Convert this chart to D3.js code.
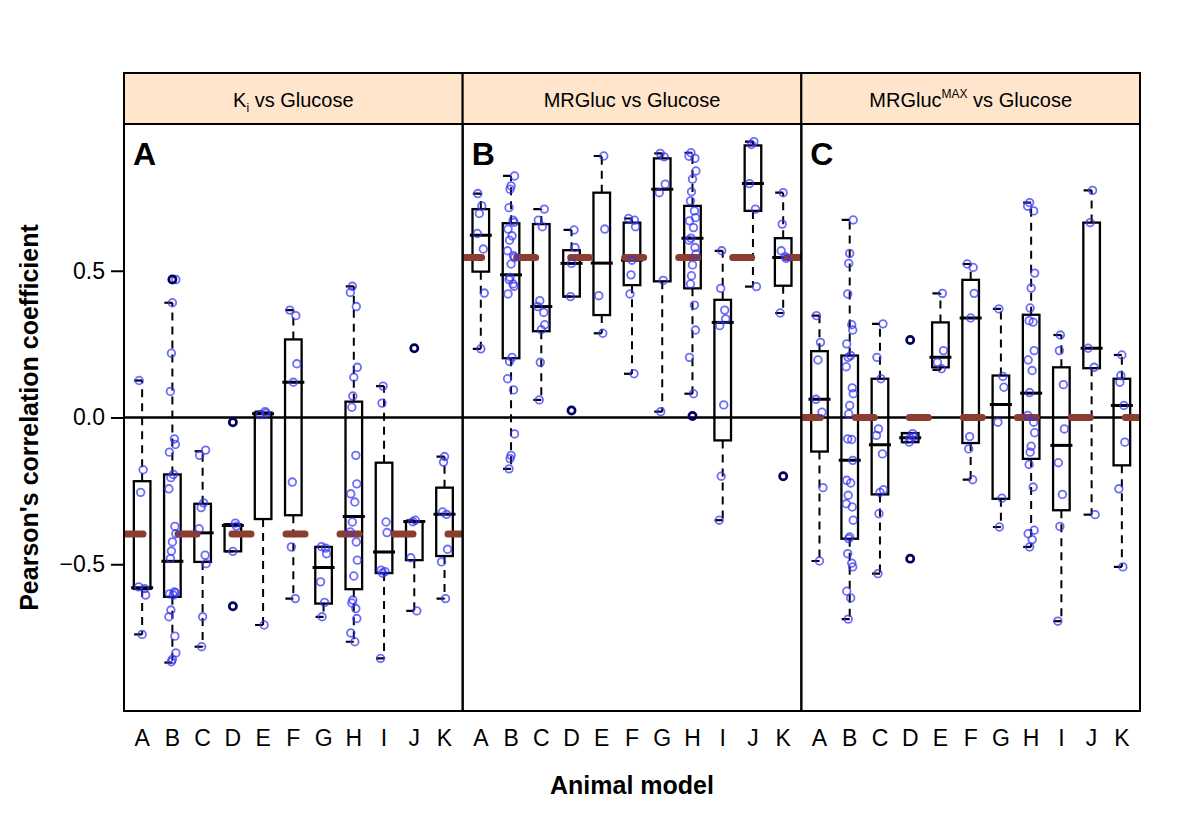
<!DOCTYPE html>
<html>
<head>
<meta charset="utf-8">
<script src="https://cdn.jsdelivr.net/npm/d3@7"></script>
<style>
  html, body { margin: 0; padding: 0; background: #ffffff; }
  svg { display: block; font-family: "Liberation Sans", Arial, Helvetica, sans-serif; }
</style>
</head>
<body>
<svg id="chart" width="1200" height="831"></svg>
<script>
// ---------------- data ----------------
const categories = ["A", "B", "C", "D", "E", "F", "G", "H", "I", "J", "K"];
const panelLetters = ["A", "B", "C"];
const yTicks = [-0.5, 0.0, 0.5];
const refLines = [-0.397, 0.545, 0.0];
const xAxisTitle = "Animal model";
const yAxisTitle = "Pearson's correlation coefficient";

// box statistics per category: [lower whisker, lower hinge, median, upper hinge, upper whisker]
const kiStats = [
  [-0.739, -0.584, -0.580, -0.217, 0.126],
  [-0.835, -0.611, -0.490, -0.194, 0.391],
  [-0.781, -0.492, -0.393, -0.294, -0.115],
  [-0.456, -0.456, -0.368, -0.364, -0.364],
  [-0.707, -0.346, 0.013, 0.017, 0.020],
  [-0.617, -0.333, 0.120, 0.266, 0.366],
  [-0.679, -0.634, -0.511, -0.441, -0.441],
  [-0.764, -0.585, -0.337, 0.054, 0.447],
  [-0.821, -0.530, -0.458, -0.154, 0.107],
  [-0.659, -0.486, -0.354, -0.354, -0.350],
  [-0.617, -0.472, -0.330, -0.239, -0.133]
];
const kiPoints = [
  [0.126, -0.178, -0.255, -0.577, -0.583, -0.605, -0.739],
  [0.470, 0.391, 0.219, 0.089, -0.073, -0.092, -0.118, -0.194, -0.205, -0.243, -0.371, -0.396, -0.424, -0.455, -0.481, -0.594, -0.598, -0.601, -0.605, -0.656, -0.679, -0.745, -0.802, -0.824, -0.832],
  [-0.111, -0.129, -0.291, -0.307, -0.379, -0.469, -0.498, -0.679, -0.781],
  [-0.360, -0.370, -0.456],
  [0.020, 0.015, 0.010, -0.707],
  [0.366, 0.347, 0.183, 0.120, -0.220, -0.441, -0.617],
  [-0.440, -0.445, -0.464, -0.560, -0.630, -0.679],
  [0.447, 0.426, 0.378, 0.171, 0.137, 0.073, 0.035, -0.129, -0.226, -0.260, -0.288, -0.356, -0.390, -0.424, -0.486, -0.540, -0.622, -0.632, -0.651, -0.685, -0.734, -0.764],
  [0.107, 0.049, -0.356, -0.392, -0.520, -0.525, -0.530, -0.821],
  [-0.350, -0.355, -0.478, -0.659],
  [-0.133, -0.152, -0.322, -0.330, -0.449, -0.492, -0.617]
];
const kiOutliers = [[], [0.470], [], [-0.016, -0.643], [], [], [], [], [], [0.236], []];

const mrgStats = [
  [0.234, 0.497, 0.621, 0.710, 0.763],
  [-0.175, 0.202, 0.486, 0.662, 0.823],
  [0.060, 0.294, 0.378, 0.659, 0.710],
  [0.412, 0.412, 0.525, 0.570, 0.639],
  [0.287, 0.349, 0.526, 0.766, 0.891],
  [0.149, 0.451, 0.536, 0.664, 0.678],
  [0.020, 0.464, 0.778, 0.883, 0.900],
  [0.081, 0.440, 0.611, 0.721, 0.902],
  [-0.350, -0.078, 0.324, 0.401, 0.568],
  [0.446, 0.704, 0.797, 0.927, 0.940],
  [0.356, 0.449, 0.545, 0.611, 0.766]
];
const mrgPoints = [
  [0.763, 0.721, 0.695, 0.627, 0.574, 0.424, 0.234],
  [0.823, 0.789, 0.778, 0.715, 0.672, 0.665, 0.642, 0.619, 0.604, 0.568, 0.551, 0.545, 0.523, 0.477, 0.470, 0.455, 0.447, 0.421, 0.205, 0.191, 0.132, 0.094, -0.056, -0.129, -0.140, -0.175],
  [0.710, 0.672, 0.650, 0.398, 0.378, 0.358, 0.316, 0.299, 0.188, 0.060],
  [0.639, 0.579, 0.525, 0.412],
  [0.891, 0.642, 0.415, 0.287],
  [0.678, 0.672, 0.650, 0.536, 0.486, 0.421, 0.149],
  [0.900, 0.888, 0.795, 0.766, 0.467, 0.020],
  [0.902, 0.890, 0.883, 0.840, 0.812, 0.769, 0.738, 0.704, 0.681, 0.670, 0.647, 0.611, 0.604, 0.579, 0.557, 0.520, 0.483, 0.455, 0.383, 0.298, 0.205, 0.081],
  [0.568, 0.440, 0.366, 0.336, 0.313, 0.043, -0.200, -0.350],
  [0.940, 0.930, 0.797, 0.710, 0.446],
  [0.766, 0.659, 0.568, 0.548, 0.542, 0.356]
];
const mrgOutliers = [[], [], [], [0.024], [], [], [], [0.005], [], [], [-0.200]];

const maxStats = [
  [-0.489, -0.116, 0.062, 0.226, 0.347],
  [-0.687, -0.413, -0.146, 0.211, 0.673],
  [-0.532, -0.262, -0.093, 0.132, 0.319],
  [-0.084, -0.084, -0.069, -0.053, -0.053],
  [0.162, 0.171, 0.205, 0.324, 0.423],
  [-0.212, -0.087, 0.339, 0.469, 0.523],
  [-0.373, -0.277, 0.044, 0.143, 0.370],
  [-0.441, -0.141, 0.083, 0.350, 0.732],
  [-0.694, -0.316, -0.095, 0.171, 0.281],
  [-0.331, 0.168, 0.236, 0.664, 0.774],
  [-0.509, -0.163, 0.041, 0.132, 0.213]
];
const maxPoints = [
  [0.347, 0.256, 0.196, 0.062, 0.018, -0.239, -0.489],
  [0.673, 0.559, 0.525, 0.421, 0.316, 0.298, 0.251, 0.211, 0.205, 0.173, 0.101, 0.081, 0.041, 0.012, -0.073, -0.075, -0.146, -0.214, -0.223, -0.265, -0.294, -0.305, -0.350, -0.407, -0.413, -0.464, -0.496, -0.509, -0.592, -0.615, -0.687],
  [0.319, 0.205, 0.132, -0.039, -0.061, -0.124, -0.246, -0.255, -0.328, -0.532],
  [-0.055, -0.065, -0.070, -0.084],
  [0.423, 0.228, 0.188, 0.166],
  [0.523, 0.511, 0.423, 0.339, -0.065, -0.107, -0.212],
  [0.370, 0.140, 0.103, -0.016, -0.275, -0.373],
  [0.732, 0.720, 0.704, 0.492, 0.441, 0.373, 0.330, 0.325, 0.228, 0.196, 0.160, 0.085, 0.007, -0.016, -0.052, -0.098, -0.118, -0.160, -0.237, -0.384, -0.396, -0.416, -0.441],
  [0.281, 0.228, 0.112, -0.039, -0.154, -0.262, -0.371, -0.694],
  [0.774, 0.664, 0.236, 0.171, -0.331],
  [0.213, 0.143, 0.120, 0.041, -0.084, -0.243, -0.509]
];
const maxOutliers = [[], [], [], [0.264, -0.481], [], [], [], [], [], [], []];

const panels = [
  { stats: kiStats, points: kiPoints, outliers: kiOutliers },
  { stats: mrgStats, points: mrgPoints, outliers: mrgOutliers },
  { stats: maxStats, points: maxPoints, outliers: maxOutliers }
];

// ---------------- layout ----------------
const svg = d3.select("#chart");
const left = 124, right = 1140, stripTop = 73, plotTop = 124, plotBottom = 711;
const panelW = (right - left) / 3;
const font = "'Liberation Sans', Arial, Helvetica, sans-serif";
const stripFill = "#ffe5cc";
const refColor = "#8b3e2f";
const pointColor = "#3434f8";
const outlierColor = "#000060";

const y = d3.scaleLinear().domain([-1, 1]).range([plotBottom, plotTop]);
const jitter = [-3, 2, -1, 3.5, -3.5, 1, 3, -2, 0, 2.5, -1.5];

const defs = svg.append("defs");

panels.forEach((pd, p) => {
  const x0 = left + p * panelW;
  const x = d3.scalePoint().domain(categories).range([x0, x0 + panelW]).padding(0.6);
  const clipId = "clip" + p;
  defs.append("clipPath").attr("id", clipId)
    .append("rect").attr("x", x0).attr("y", plotTop).attr("width", panelW).attr("height", plotBottom - plotTop);

  // strip
  svg.append("rect").attr("x", x0).attr("y", stripTop).attr("width", panelW).attr("height", plotTop - stripTop)
    .attr("fill", stripFill).attr("stroke", "none");

  const g = svg.append("g").attr("clip-path", `url(#${clipId})`);

  // zero line
  g.append("line").attr("x1", x0).attr("x2", x0 + panelW).attr("y1", y(0)).attr("y2", y(0))
    .attr("stroke", "#000").attr("stroke-width", 2.4);

  // boxes
  categories.forEach((c, i) => {
    const [lw, q1, med, q3, uw] = pd.stats[i];
    const cx = x(c);
    const bw = 8.3;
    g.append("line").attr("x1", cx).attr("x2", cx).attr("y1", y(q3)).attr("y2", y(uw))
      .attr("stroke", "#000").attr("stroke-width", 2).attr("stroke-dasharray", "8 6");
    g.append("line").attr("x1", cx).attr("x2", cx).attr("y1", y(q1)).attr("y2", y(lw))
      .attr("stroke", "#000").attr("stroke-width", 2).attr("stroke-dasharray", "8 6");
    [lw, uw].forEach(v => {
      g.append("line").attr("x1", cx - 8).attr("x2", cx).attr("y1", y(v)).attr("y2", y(v))
        .attr("stroke", "#000").attr("stroke-width", 2.2);
    });
    g.append("rect").attr("x", cx - bw).attr("y", y(q3)).attr("width", 2 * bw)
      .attr("height", Math.max(0.5, y(q1) - y(q3)))
      .attr("fill", "none").attr("stroke", "#000").attr("stroke-width", 2.3);
    g.append("line").attr("x1", cx - 11).attr("x2", cx + 11).attr("y1", y(med)).attr("y2", y(med))
      .attr("stroke", "#000").attr("stroke-width", 3);
  });

  // reference line
  g.append("line").attr("x1", x0).attr("x2", x0 + panelW).attr("y1", y(refLines[p])).attr("y2", y(refLines[p]))
    .attr("stroke", refColor).attr("stroke-width", 7).attr("stroke-linecap", "round")
    .attr("stroke-dasharray", "19 35");

  // points
  categories.forEach((c, i) => {
    const cx = x(c);
    pd.points[i].forEach((v, k) => {
      g.append("circle").attr("cx", cx + jitter[(k * 5 + i * 3) % jitter.length]).attr("cy", y(v)).attr("r", 3.8)
        .attr("fill", "none").attr("stroke", pointColor).attr("stroke-opacity", 0.72).attr("stroke-width", 1.8);
    });
    pd.outliers[i].forEach(v => {
      g.append("circle").attr("cx", cx).attr("cy", y(v)).attr("r", 3.6)
        .attr("fill", "none").attr("stroke", outlierColor).attr("stroke-width", 2.7);
    });
  });

  // panel letter
  svg.append("text").attr("x", x0 + 9).attr("y", 165).text(panelLetters[p])
    .attr("font-family", font).attr("font-weight", "bold").attr("font-size", 32).attr("fill", "#000");

  // x labels
  svg.append("g").selectAll("text").data(categories).join("text")
    .attr("x", d => x(d)).attr("y", 746).attr("text-anchor", "middle")
    .attr("font-family", font).attr("font-size", 23).attr("fill", "#000").text(d => d);

  // frames
  svg.append("rect").attr("x", x0).attr("y", stripTop).attr("width", panelW).attr("height", plotTop - stripTop)
    .attr("fill", "none").attr("stroke", "#000").attr("stroke-width", 2);
  svg.append("rect").attr("x", x0).attr("y", plotTop).attr("width", panelW).attr("height", plotBottom - plotTop)
    .attr("fill", "none").attr("stroke", "#000").attr("stroke-width", 2);
});

// strip titles
const stripY = 107;
const t1 = svg.append("text").attr("x", left + panelW * 0.5).attr("y", stripY).attr("text-anchor", "middle")
  .attr("font-family", font).attr("font-size", 20);
t1.append("tspan").text("K");
t1.append("tspan").attr("font-size", 12).attr("dy", 5).text("i");
t1.append("tspan").attr("dy", -5).text(" vs Glucose");

svg.append("text").attr("x", left + panelW * 1.5).attr("y", stripY).attr("text-anchor", "middle")
  .attr("font-family", font).attr("font-size", 20).text("MRGluc vs Glucose");

const t3 = svg.append("text").attr("x", left + panelW * 2.5).attr("y", stripY).attr("text-anchor", "middle")
  .attr("font-family", font).attr("font-size", 20);
t3.append("tspan").text("MRGluc");
t3.append("tspan").attr("font-size", 12).attr("dy", -9).text("MAX");
t3.append("tspan").attr("dy", 9).text(" vs Glucose");

// y axis
const yAxis = d3.axisLeft(y).tickValues(yTicks).tickSize(13).tickPadding(6)
  .tickFormat(d => d3.format(".1f")(d));
const ya = svg.append("g").attr("transform", `translate(${left},0)`).call(yAxis);
ya.select(".domain").remove();
ya.selectAll(".tick line").attr("stroke", "#000").attr("stroke-width", 2);
ya.selectAll(".tick text").attr("font-family", font).attr("font-size", 23).attr("fill", "#000");

// axis titles
svg.append("text").attr("x", (left + right) / 2).attr("y", 794).attr("text-anchor", "middle")
  .attr("font-family", font).attr("font-weight", "bold").attr("font-size", 25).text(xAxisTitle);
svg.append("text").attr("transform", `translate(38,${(plotTop + plotBottom) / 2}) rotate(-90)`)
  .attr("text-anchor", "middle").attr("font-family", font).attr("font-weight", "bold").attr("font-size", 25)
  .text(yAxisTitle);
</script>
</body>
</html>
